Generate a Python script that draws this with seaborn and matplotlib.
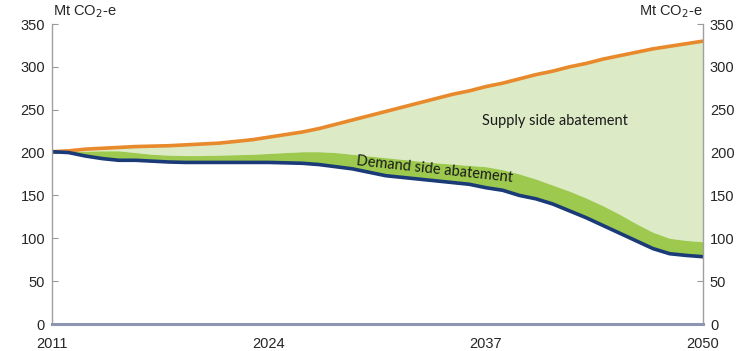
import matplotlib
matplotlib.use("Agg")
import matplotlib.pyplot as plt
import seaborn as sns
import numpy as np
import pandas as pd

years = list(range(2011, 2051))
baseline = [201, 202, 204, 205, 206, 207, 207.5, 208, 209, 210,
            211, 213, 215, 218, 221, 224, 228, 233, 238, 243,
            248, 253, 258, 263, 268, 272, 277, 281, 286, 291,
            295, 300, 304, 309, 313, 317, 321, 324, 327, 330]
demand_top = [201, 201, 201.5, 202, 202, 200, 198, 197, 196.5, 196.5,
              197, 197.5, 198, 199, 200, 201, 201, 200, 198, 196,
              194, 192, 190, 188, 186.5, 185, 183.5, 180, 175, 169,
              162, 155, 147, 138, 128, 117, 107, 100, 97.5, 96]
actual = [201, 200, 196, 193, 191, 191, 190, 189, 188.5, 188.5,
          188.5, 188.5, 188.5, 188.5, 188, 187.5, 186, 183.5, 181, 177,
          173, 171, 169, 167, 165, 163, 159, 156, 150, 146,
          140, 132, 124, 115, 106, 97, 88, 82, 80, 78.5]
xticks = [2011, 2024, 2037, 2050]
yticks = [0, 50, 100, 150, 200, 250, 300, 350]
unit_label = "Mt CO$_2$-e"

df = pd.DataFrame({"year": years, "baseline": baseline,
                   "demand_top": demand_top, "actual": actual})

sns.set_style("white")
plt.rcParams['font.family'] = ['Liberation Sans Narrow', 'Liberation Sans', 'DejaVu Sans']

fig = plt.figure(figsize=(7.54, 3.51), dpi=100)
ax = fig.add_axes([52/754, 27/351, (703-52)/754, 300/351])

ax.fill_between(df["year"], df["demand_top"], df["baseline"], color="#DCEBC6", lw=0)
ax.fill_between(df["year"], df["actual"], df["demand_top"], color="#9CC94E", lw=0)
sns.lineplot(data=df, x="year", y="baseline", ax=ax, color="#E8892B", lw=2.6,
             solid_joinstyle="round", solid_capstyle="round")
sns.lineplot(data=df, x="year", y="actual", ax=ax, color="#1B3A78", lw=2.6,
             solid_joinstyle="round", solid_capstyle="round")

ax.set_xlim(2011, 2050)
ax.set_ylim(0, 350)
ax.set_xticks(xticks)
ax.set_yticks(yticks)
ax.set_xlabel("")
ax.set_ylabel("")
ax.tick_params(axis="y", direction="in", length=4, color="#999999", labelsize=10.5,
               left=True, right=True, labelleft=True, labelright=True, pad=5)
ax.tick_params(axis="x", direction="in", length=4, color="#999999", labelsize=10.5, pad=9)
for s in ["left", "right"]:
    ax.spines[s].set_color("#A0A0A0")
    ax.spines[s].set_linewidth(1.0)
ax.spines["top"].set_visible(False)
ax.spines["bottom"].set_color("#8E95B2")
ax.spines["bottom"].set_linewidth(2.2)

fig.text(53/754, 1 - 12/351, unit_label, ha="left", va="center", fontsize=10.5,
         family=['Liberation Sans', 'DejaVu Sans'])
fig.text(703/754, 1 - 12/351, unit_label, ha="right", va="center", fontsize=10.5,
         family=['Liberation Sans', 'DejaVu Sans'])

ax.text(2041.1, 237, "Supply side abatement", ha="center", va="center", fontsize=10.5,
        family=['Lato', 'DejaVu Sans'], color="#1a1a1a")
ax.text(2033.9, 180, "Demand side abatement", ha="center", va="center", fontsize=10.5,
        family=['Lato', 'DejaVu Sans'], color="#1a1a1a", rotation=-6.2)

fig.savefig("out.png", dpi=100)
